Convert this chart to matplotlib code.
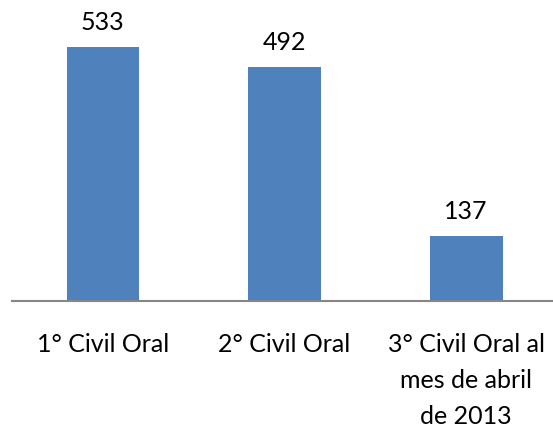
import matplotlib
matplotlib.use("Agg")
import matplotlib.pyplot as plt

categories = ["1° Civil Oral", "2° Civil Oral", "3° Civil Oral al\nmes de abril\nde 2013"]
values = [533, 492, 137]

plt.rcParams['font.family'] = ['Lato', 'DejaVu Sans']

fig = plt.figure(figsize=(5.53, 4.27), dpi=100, facecolor='w')
ax = fig.add_axes([12 / 553, 1 - 302 / 427, 545 / 553, 302 / 427])

xs = range(len(values))
ax.bar(xs, values, width=0.4, color='#4F81BD')
for x, v in zip(xs, values):
    ax.annotate(str(v), (x, v), xytext=(0, 10), textcoords='offset points',
                ha='center', va='bottom', fontsize=18, color='black')

ax.set_xlim(-0.5, 2.5)
ax.set_ylim(0, 634)
ax.set_yticks([])
ax.set_xticks(list(xs))
ax.set_xticklabels(categories, fontsize=18, linespacing=1.7)
ax.tick_params(axis='x', length=0, pad=22)
for s in ['top', 'right', 'left']:
    ax.spines[s].set_visible(False)
ax.spines['bottom'].set_color('#868686')
ax.spines['bottom'].set_linewidth(1.5)

fig.savefig("out.png", dpi=100)
